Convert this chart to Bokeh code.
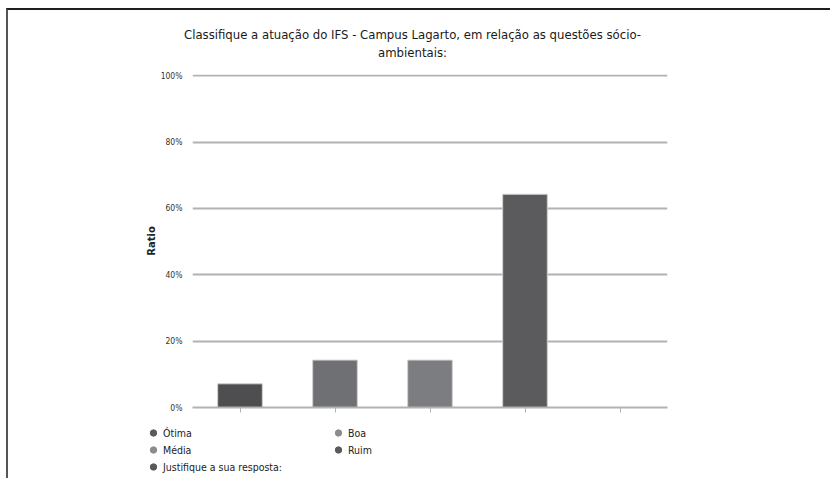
from bokeh.plotting import figure
from bokeh.layouts import column
from bokeh.models import (ColumnDataSource, FactorRange, NumeralTickFormatter,
                          Legend, LegendItem, FixedTicker, Label)
from bokeh.embed import file_html
from bokeh.resources import INLINE

# Survey answers and their share of responses
categories = ["Ótima", "Boa", "Média", "Ruim", "Justifique a sua resposta:"]
ratios = [0.0714, 0.1429, 0.1429, 0.6429, 0.0]
bar_colors = ["#4e4e50", "#6f7073", "#7c7d80", "#5b5b5d", "#5b5b5d"]
marker_colors = ["#5a5a5a", "#8c8c8c", "#8c8c8c", "#5a5a5a", "#5a5a5a"]
y_ticks = [0, 0.2, 0.4, 0.6, 0.8, 1.0]

title_lines = ["Classifique a atuação do IFS - Campus Lagarto, em relação as questões sócio-",
               "ambientais:"]

FONT = "DejaVu Sans Condensed"


def bare_strip(height):
    """A figure with no axes whose frame fills the whole canvas."""
    f = figure(width=822, height=height, x_range=(0, 1), y_range=(0, 1),
               output_backend="svg", toolbar_location=None,
               x_axis_location=None, y_axis_location=None,
               min_border=0, frame_align=False)
    f.outline_line_color = None
    f.grid.grid_line_color = None
    f.background_fill_color = "white"
    f.border_fill_color = "white"
    return f


# ---- title strip: two centred lines ----
tp = bare_strip(56)
for line, y in zip(title_lines, [32.5, 14.5]):
    tp.add_layout(Label(x=404, y=y, x_units="screen", y_units="screen",
                        text=line, text_align="center", text_baseline="middle",
                        text_font=FONT, text_font_size="13px",
                        text_color="#1a1a1a"))

# ---- main chart ----
src = ColumnDataSource(dict(cat=categories, ratio=ratios, color=bar_colors))

p = figure(
    width=822, height=359,
    x_range=FactorRange(*categories, range_padding=0.0),
    y_range=(0, 1.004),
    output_backend="svg", toolbar_location=None,
    min_border_left=184, min_border_right=163,
    min_border_top=8, min_border_bottom=18,
    frame_align=False,
)
p.outline_line_color = None
p.background_fill_color = "white"
p.border_fill_color = "white"

p.vbar(x="cat", top="ratio", width=0.47, source=src,
       fill_color="color", line_color="#d0d0d0", line_width=1)

# Y axis
p.yaxis.ticker = FixedTicker(ticks=y_ticks)
p.yaxis.formatter = NumeralTickFormatter(format="0%")
p.yaxis.axis_line_color = None
p.yaxis.major_tick_line_color = None
p.yaxis.major_tick_out = 0
p.yaxis.major_tick_in = 0
p.yaxis.minor_tick_line_color = None
p.yaxis.major_label_text_font = FONT
p.yaxis.major_label_text_font_size = "8.5px"
p.yaxis.major_label_text_color = "#333333"
p.yaxis.major_label_standoff = 10
p.yaxis.axis_label = "Ratio"
p.yaxis.axis_label_text_font = "DejaVu Sans"
p.yaxis.axis_label_text_font_size = "10px"
p.yaxis.axis_label_text_font_style = "bold"
p.yaxis.axis_label_text_color = "#222222"
p.yaxis.axis_label_standoff = 1

p.ygrid.grid_line_color = "#b2b2b2"
p.ygrid.grid_line_width = 2
p.xgrid.grid_line_color = None

# X axis: ticks only, no labels
p.xaxis.axis_line_color = "#b2b2b2"
p.xaxis.axis_line_width = 2
p.xaxis.major_tick_line_color = "#b2b2b2"
p.xaxis.major_tick_in = 0
p.xaxis.major_tick_out = 5
p.xaxis.major_label_standoff = 0
p.xaxis.major_label_text_font_size = "0px"
p.xaxis.major_label_text_color = None

# ---- legend strip under the chart ----
lp = bare_strip(53)
dots = lp.scatter(x=[0.5] * len(categories), y=[float("nan")] * len(categories),
                  color=marker_colors, size=7, marker="circle")
order = [0, 2, 4, 1, 3]
items = [LegendItem(label=categories[i], renderers=[dots], index=i) for i in order]
legend = Legend(items=items, location=(137, 3), ncols=2, nrows=3,
                orientation="vertical")
legend.border_line_color = None
legend.background_fill_alpha = 0
legend.padding = 0
legend.margin = 0
legend.spacing = 0
legend.glyph_width = 16
legend.glyph_height = 17
legend.label_standoff = 2
legend.label_width = 167
legend.label_text_font = FONT
legend.label_text_font_size = "10.5px"
legend.label_text_color = "#222222"
legend.label_height = 17
lp.add_layout(legend, "center")

page = column(tp, p, lp, spacing=0, margin=(8, 0, 0, 6),
              styles={"border-top": "2px solid #1e1e1e",
                      "border-left": "2px solid #555555"})

open("out.html", "w").write(file_html(page, INLINE))
